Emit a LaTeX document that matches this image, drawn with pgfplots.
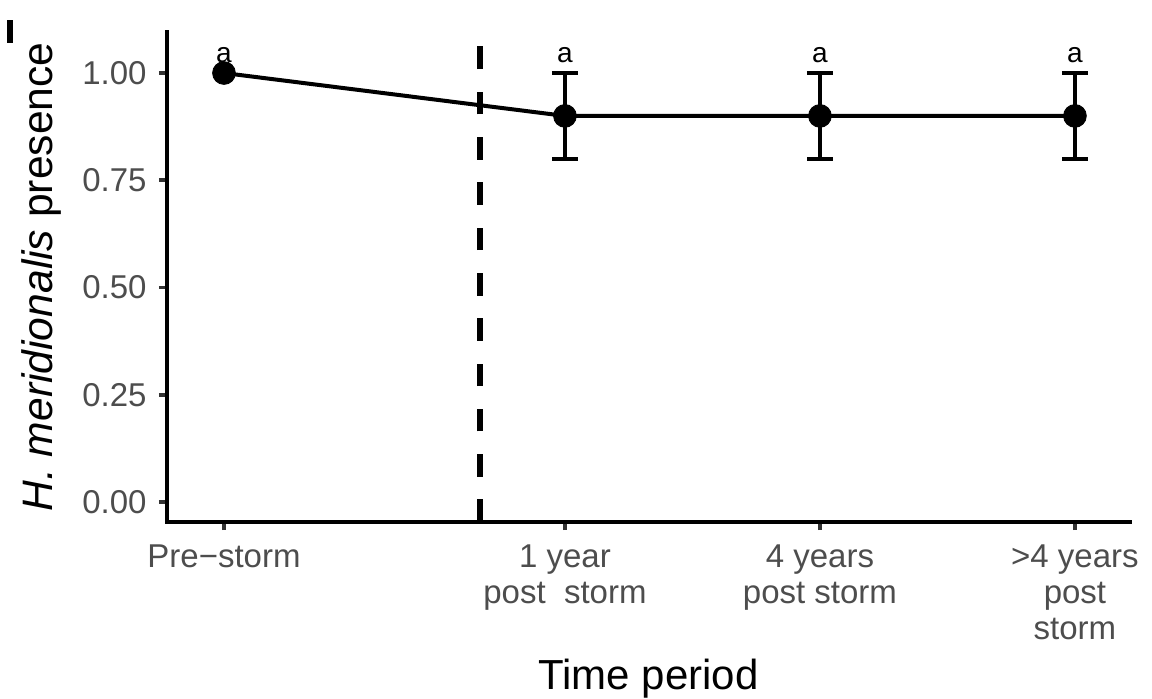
\documentclass[border=0pt]{standalone}
\usepackage{pgfplots}
\pgfplotsset{compat=1.18}
\usepackage{pgfplotstable}
\usepackage{fontspec}
\setmainfont{Liberation Sans}
\definecolor{gray30}{HTML}{4D4D4D}
\definecolor{gray20}{HTML}{333333}
\pgfplotstableread{
x y
0 1.0
1.337 0.9
2.337 0.9
3.337 0.9
}\means
\pgfplotstableread{
x y e
1.337 0.9 0.1
2.337 0.9 0.1
3.337 0.9 0.1
}\errs
\pgfplotstableread{
x y lab
0 1.025 a
1.337 1.025 a
2.337 1.025 a
3.337 1.025 a
}\letters
\begin{document}
\begin{tikzpicture}
\useasboundingbox (0,0) rectangle (576pt,349pt);
\fill[black] (3.5pt,327.5pt) rectangle (6.5pt,339pt);
\begin{axis}[
  at={(83.5pt,88pt)}, anchor=south west,
  scale only axis, width=481.5pt, height=245pt,
  xmin=-0.2235, xmax=3.5529, ymin=-0.0466, ymax=1.0956,
  axis x line*=bottom, axis y line*=left,
  axis line style={-, line width=2pt, black, line cap=rect},
  tick align=outside, major tick length=4pt,
  tick style={gray20, line width=1.8pt},
  xtick={0,1.337,2.337,3.337},
  xticklabels={Pre−storm,{1 year\\post\ \ storm},{4 years\\post storm},{>4 years\\post\\storm}},
  ytick={0,0.25,0.5,0.75,1},
  yticklabels={0.00,0.25,0.50,0.75,1.00},
  tick label style={font=\fontsize{16.5}{18}\selectfont, text=gray30},
  xticklabel style={anchor=north, inner sep=0pt, align=center, yshift=-7pt},
  yticklabel style={anchor=east, inner sep=0pt, xshift=-6pt},
  xlabel={Time period},
  ylabel={\textit{H. meridionalis} presence},
  xlabel style={at={(axis description cs:0.5,-0.3408)}, anchor=base, font=\fontsize{21}{25}\selectfont, inner sep=0pt},
  ylabel style={at={(axis description cs:-0.1184,0.5)}, rotate=0, anchor=base, font=\fontsize{21.3}{25}\selectfont, inner sep=0pt},
  clip=false,
]
\addplot[black, line width=2.8pt, dash pattern=on 11.3pt off 11.35pt] coordinates {(1.004,-0.0466) (1.004,1.0956)};
\addplot[black, line width=2pt] table[x=x,y=y] {\means};
\addplot[draw=none, mark=none, error bars/.cd, y dir=both, y explicit,
  error bar style={black, line width=2pt},
  error mark options={black, rotate=90, mark size=6.5pt, line width=2pt}]
  table[x=x,y=y,y error=e] {\errs};
\addplot[only marks, mark=*, mark size=5.7pt, black] table[x=x,y=y] {\means};
\addplot[draw=none, mark=none, nodes near coords, point meta=explicit symbolic,
  nodes near coords style={anchor=base, inner sep=0pt, font=\fontsize{14}{16}\selectfont, text=black}]
  table[x=x,y=y,meta=lab] {\letters};
\end{axis}
\end{tikzpicture}
\end{document}
